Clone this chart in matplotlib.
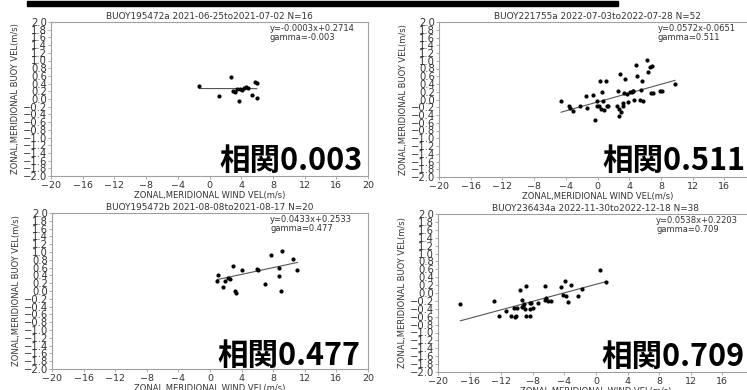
import matplotlib.pyplot as plt
from matplotlib.patches import Rectangle

# パネル1 BUOY195472a
x1 = [-1.3, 2.71, 1.24, 3.0, 3.22, 3.77, 3.85, 4.14, 4.35, 4.6, 4.9, 5.32, 5.78, 5.95, 5.95, 3.5]
y1 = [0.34, 0.56, 0.08, 0.22, 0.19, -0.04, 0.26, 0.23, 0.29, 0.32, 0.29, 0.10, 0.45, 0.41, 0.03, 0.27]

# パネル2 BUOY221755a
x2 = [-4.60, -3.55, -3.13, -1.45, -1.37, -0.53, -0.32, -0.02, 0.23, 0.32, 0.40, 0.53, 0.65,
      0.82, 1.07, 1.16, 1.37, 2.63, 2.71, 2.76, 2.84, 2.92, 3.18, 3.26, 3.34, 3.47, 3.68,
      3.89, 4.10, 4.31, 4.44, 4.52, 4.65, 4.86, 4.94, 5.36, 5.45, 5.57, 5.78, 6.20, 6.41,
      6.63, 6.84, 6.75, 7.05, 7.89, 8.10, 9.78, -3.47, -2.21, -0.10, 2.42]
y2 = [-0.035, -0.18, -0.30, 0.10, -0.225, 0.11, -0.53, -0.16, -0.18, 0.48, -0.24, 0.19, -0.03,
      -0.27, 0.48, -0.18, -0.16, 0.21, -0.24, -0.43, 0.67, -0.33, -0.18, -0.10, 0.16, 0.54, 0.15,
      -0.07, 0.19, 0.19, 0.22, 0.23, -0.01, 0.90, 0.60, -0.01, 0.25, 0.49, -0.03, 1.01, 0.71,
      0.84, 0.86, 0.16, 0.16, 0.23, 0.21, 0.39, -0.225, -0.18, -0.03, -0.16]

# パネル3 BUOY195472b
x3 = [1.06, 0.93, 1.69, 1.90, 2.32, 2.54, 2.96, 3.17, 3.25, 4.10, 5.91, 6.12, 6.97, 7.68,
      8.74, 8.74, 8.99, 9.08, 10.55, 11.06]
y3 = [0.40, 0.25, 0.10, 0.25, 0.34, 0.31, 0.64, -0.005, -0.06, 0.53, 0.57, 0.55, 0.19, 0.92,
      0.60, 0.38, 0.0, 1.03, 0.83, 0.55]

# パネル4 BUOY236434a
x4 = [-17.18, -12.96, -12.28, -11.44, -10.80, -10.38, -10.30, -10.17, -9.96, -9.66, -9.33,
      -9.33, -9.24, -9.12, -8.91, -8.82, -8.40, -8.40, -8.19, -7.98, -7.34, -6.50, -6.50,
      -6.29, -6.08, -5.66, -4.39, -4.18, -3.97, -3.76, -3.55, -3.12, -2.28, -1.73, 0.46,
      1.22, -8.40, -9.03]
y4 = [-0.29, -0.19, -0.585, -0.46, -0.57, -0.375, -0.60, -0.585, -0.375, 0.086, -0.166,
      -0.35, -0.317, -0.275, 0.187, -0.57, -0.40, -0.585, -0.25, -0.375, -0.25, 0.17, -0.166,
      -0.124, -0.208, -0.208, 0.153, -0.04, 0.296, -0.08, -0.233, 0.212, -0.065, 0.103, 0.59,
      0.27, -0.25, -0.40]

titles = ["BUOY195472a 2021-06-25to2021-07-02 N=16",
          "BUOY221755a 2022-07-03to2022-07-28 N=52",
          "BUOY195472b 2021-08-08to2021-08-17 N=20",
          "BUOY236434a 2022-11-30to2022-12-18 N=38"]
slopes = [-0.0003, 0.0572, 0.0433, 0.0538]
intercepts = [0.2714, -0.0651, 0.2533, 0.2203]
eq_labels = ["y=-0.0003x+0.2714", "y=0.0572x-0.0651", "y=0.0433x+0.2533", "y=0.0538x+0.2203"]
gammas = ["-0.003", "0.511", "0.477", "0.709"]
corr_labels = ["相関0.003", "相関0.511", "相関0.477", "相関0.709"]

xs = [x1, x2, x3, x4]
ys = [y1, y2, y3, y4]

W, H = 747, 390
fig = plt.figure(figsize=(W / 100, H / 100), dpi=100)

# 各パネルの位置 (左, 上, 右, 下) ピクセル
boxes = [(51, 22, 368, 176), (439, 22, 756, 177), (52, 213, 368, 369), (438, 214, 754, 372)]
# 大きい文字の右端とベースライン (ピクセル)
corr_pos = [(363, 170), (745, 170), (360, 365), (745, 366)]

txt = '#333333'
edge = '#a0a0a0'
yticks = [round(-2.0 + 0.2 * i, 1) for i in range(21)]
xticks = list(range(-20, 21, 4))

for i in range(4):
    l, t, r, b = boxes[i]
    ax = fig.add_axes([l / W, 1 - b / H, (r - l) / W, (b - t) / H])
    ax.scatter(xs[i], ys[i], s=4, color='black', zorder=3)
    xmin, xmax = min(xs[i]), max(xs[i])
    ax.plot([xmin, xmax], [slopes[i] * xmin + intercepts[i], slopes[i] * xmax + intercepts[i]],
            color='#555555', lw=0.8)
    ax.set_xlim(-20, 20)
    ax.set_ylim(-2.0, 2.0)
    ax.set_xticks(xticks)
    ax.set_yticks(yticks)
    ax.set_yticklabels([f"{v:.1f}".replace('-', '\u2212') for v in yticks])
    ax.tick_params(labelsize=6.8, colors=txt, length=2, width=0.6, pad=1.5, color=edge)
    ax.tick_params(axis='y', labelsize=7.2, pad=1)
    for s in ax.spines.values():
        s.set_color(edge)
        s.set_linewidth(0.8)
    ax.set_title(titles[i], fontsize=6.4, color=txt, pad=2)
    ax.set_xlabel("ZONAL,MERIDIONAL WIND VEL(m/s)", fontsize=6, color=txt, labelpad=1)
    ax.set_ylabel("ZONAL,MERIDIONAL BUOY VEL(m/s)", fontsize=6, color=txt, labelpad=2)
    ax.text(0.69, 0.985, eq_labels[i] + "\ngamma=" + gammas[i], transform=ax.transAxes,
            fontsize=6, color=txt, va='top', ha='left', linespacing=0.9)
    cx, cy = corr_pos[i]
    fig.text(cx / W, 1 - cy / H, corr_labels[i], ha='right', va='baseline',
             fontsize=22, fontweight='bold', color='black',
             family=['Noto Sans CJK JP', 'DejaVu Sans'])

# 上端の黒い線
fig.add_artist(Rectangle((27 / W, 1 - 5.5 / H), 591 / W, 4.5 / H,
                         transform=fig.transFigure, color='black'))

fig.savefig("out.png", dpi=100)
